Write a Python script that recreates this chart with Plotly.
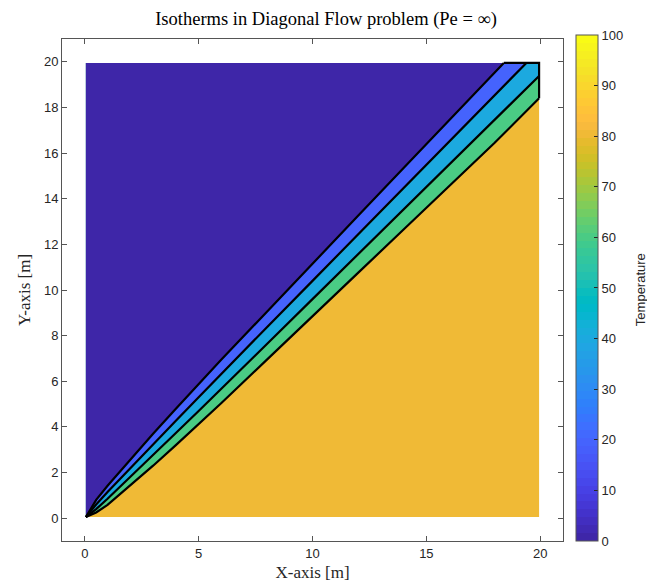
import plotly.graph_objects as go

# ---------------- data ----------------
levels = [0, 20, 40, 60, 80]           # fill levels (lower bound of each band)
domain_x = [0.05, 19.95]               # extent of the computed field
domain_y = [0.05, 19.95]

x_pts = [0.05, 0.5, 1, 2, 3, 4, 5, 6, 8, 10, 12, 14, 16, 18]

# isotherm T = 20 (upper-most line), ends on the top edge
iso20_x = x_pts + [18.4]
iso20_y = [0.05, 0.8, 1.42, 2.58, 3.7, 4.8, 5.88, 6.95, 9.05, 11.13, 13.25, 15.35, 17.45, 19.55, 19.95]
# isotherm T = 40, ends on the top edge
iso40_x = x_pts + [19.0, 19.39]
iso40_y = [0.05, 0.6, 1.15, 2.2, 3.24, 4.27, 5.3, 6.33, 8.37, 10.4, 12.44, 14.48, 16.52, 18.56, 19.57, 19.95]
# isotherm T = 60, ends on the right edge
iso60_x = x_pts + [19.0, 19.95]
iso60_y = [0.05, 0.4, 0.85, 1.8, 2.76, 3.73, 4.7, 5.67, 7.63, 9.6, 11.56, 13.52, 15.48, 17.44, 18.43, 19.38]
# isotherm T = 80 (lowest line), ends on the right edge
iso80_x = x_pts + [19.95]
iso80_y = [0.05, 0.25, 0.58, 1.42, 2.3, 3.2, 4.12, 5.05, 6.95, 8.87, 10.75, 12.65, 14.55, 16.45, 18.4]

cbar_ticks = [0, 10, 20, 30, 40, 50, 60, 70, 80, 90, 100]
x_ticks = [0, 5, 10, 15, 20]
y_ticks = [0, 2, 4, 6, 8, 10, 12, 14, 16, 18, 20]
c_min, c_max = 0, 100

# ---------------- style ----------------
parula_rgb = [
    (0.2422, 0.1504, 0.6603), (0.2504, 0.1650, 0.7076), (0.2578, 0.1818, 0.7511), (0.2647, 0.1978, 0.7952),
    (0.2706, 0.2147, 0.8364), (0.2751, 0.2342, 0.8710), (0.2783, 0.2559, 0.8991), (0.2803, 0.2782, 0.9221),
    (0.2813, 0.3006, 0.9414), (0.2810, 0.3228, 0.9579), (0.2795, 0.3447, 0.9717), (0.2760, 0.3667, 0.9829),
    (0.2699, 0.3892, 0.9906), (0.2602, 0.4123, 0.9952), (0.2440, 0.4358, 0.9988), (0.2206, 0.4603, 0.9973),
    (0.1963, 0.4847, 0.9892), (0.1834, 0.5074, 0.9798), (0.1786, 0.5289, 0.9682), (0.1764, 0.5499, 0.9520),
    (0.1687, 0.5703, 0.9359), (0.1540, 0.5902, 0.9218), (0.1460, 0.6091, 0.9079), (0.1380, 0.6276, 0.8973),
    (0.1248, 0.6459, 0.8883), (0.1113, 0.6635, 0.8763), (0.0952, 0.6798, 0.8598), (0.0689, 0.6948, 0.8394),
    (0.0297, 0.7082, 0.8163), (0.0036, 0.7203, 0.7917), (0.0067, 0.7312, 0.7660), (0.0433, 0.7411, 0.7394),
    (0.0964, 0.7500, 0.7120), (0.1408, 0.7584, 0.6842), (0.1717, 0.7670, 0.6554), (0.1938, 0.7758, 0.6251),
    (0.2161, 0.7843, 0.5923), (0.2470, 0.7918, 0.5567), (0.2906, 0.7973, 0.5188), (0.3406, 0.8008, 0.4789),
    (0.3909, 0.8029, 0.4354), (0.4456, 0.8024, 0.3909), (0.5044, 0.7993, 0.3480), (0.5616, 0.7942, 0.3045),
    (0.6174, 0.7876, 0.2612), (0.6720, 0.7793, 0.2227), (0.7242, 0.7698, 0.1910), (0.7738, 0.7598, 0.1646),
    (0.8203, 0.7498, 0.1535), (0.8634, 0.7406, 0.1596), (0.9035, 0.7330, 0.1774), (0.9393, 0.7288, 0.2100),
    (0.9728, 0.7298, 0.2394), (0.9956, 0.7434, 0.2371), (0.9970, 0.7659, 0.2199), (0.9952, 0.7893, 0.2028),
    (0.9892, 0.8136, 0.1885), (0.9786, 0.8386, 0.1766), (0.9676, 0.8639, 0.1643), (0.9610, 0.8890, 0.1537),
    (0.9597, 0.9135, 0.1423), (0.9628, 0.9373, 0.1265), (0.9691, 0.9606, 0.1064), (0.9769, 0.9839, 0.0805),
]
n = len(parula_rgb)
rgb_str = ["rgb(%d,%d,%d)" % tuple(round(255 * c) for c in rgb) for rgb in parula_rgb]
# stepped colormap (like MATLAB's 64-colour colorbar)
parula = []
for i, c in enumerate(rgb_str):
    parula.append([i / n, c])
    parula.append([(i + 1) / n, c])


def cmap_lookup(v):
    k = int((v - c_min) / (c_max - c_min) * n)
    return rgb_str[min(max(k, 0), n - 1)]


fill_colors = [cmap_lookup(lv) for lv in levels]

sans = "Liberation Sans, Arial, sans-serif"
serif = "Liberation Serif, Times New Roman, serif"
tick_font = dict(family=sans, size=13, color="#262626")

fig = go.Figure()

x0, x1 = domain_x
y0, y1 = domain_y

# background band (highest level) covers the whole domain
fig.add_trace(go.Scatter(x=[x0, x1, x1, x0, x0], y=[y0, y0, y1, y1, y0], mode="lines",
                         line=dict(width=0), fill="toself", fillcolor=fill_colors[4], hoverinfo="skip"))

# region above each isotherm, drawn from the lowest line upward
iso_lines = [(iso80_x, iso80_y, fill_colors[3]), (iso60_x, iso60_y, fill_colors[2]),
             (iso40_x, iso40_y, fill_colors[1]), (iso20_x, iso20_y, fill_colors[0])]
for xs, ys, col in iso_lines:
    px = list(xs)
    py = list(ys)
    if px[-1] >= x1:          # ends on the right edge -> go through top-right corner
        px.append(x1); py.append(y1)
    px += [x0, x0]
    py += [y1, y0]
    fig.add_trace(go.Scatter(x=px, y=py, mode="lines", line=dict(width=0),
                             fill="toself", fillcolor=col, hoverinfo="skip"))

# black isotherm lines
for xs, ys, _ in iso_lines:
    fig.add_trace(go.Scatter(x=xs, y=ys, mode="lines", line=dict(color="black", width=2.2),
                             hoverinfo="skip"))
# band edge along the boundary at the top-right corner
fig.add_trace(go.Scatter(x=[iso20_x[-1], x1, x1], y=[y1, y1, iso80_y[-1]], mode="lines",
                         line=dict(color="black", width=2.2), hoverinfo="skip"))

# colorbar
fig.add_trace(go.Scatter(
    x=[None], y=[None], mode="markers", hoverinfo="skip",
    marker=dict(colorscale=parula, cmin=c_min, cmax=c_max, color=[0], showscale=True,
                colorbar=dict(
                    tickvals=cbar_ticks, ticks="inside", ticklen=4, tickcolor="#262626",
                    tickfont=tick_font, thickness=22, thicknessmode="pixels",
                    lenmode="pixels", len=506, y=0.504, yanchor="middle",
                    x=1.026, xanchor="left", xpad=0, ypad=0,
                    outlinewidth=1, outlinecolor="#555555"))))

fig.update_layout(
    width=647, height=587,
    margin=dict(l=62, r=84, t=39, b=46, autoexpand=False),
    paper_bgcolor="white", plot_bgcolor="white",
    showlegend=False, hovermode=False,
    title=dict(text="Isotherms in Diagonal Flow problem (Pe = ∞)", x=0.527, xref="paper", xanchor="center",
               y=1 - 19 / 587, yref="container", yanchor="middle",
               font=dict(family=serif, size=18.5, color="black")),
    annotations=[dict(text="Temperature", textangle=-90, x=1.154, y=0.5, xref="paper", yref="paper",
                      xanchor="center", yanchor="middle", showarrow=False,
                      font=dict(family=sans, size=13, color="#262626"))],
)
axis_common = dict(showgrid=False, zeroline=False, showline=True, linecolor="#555555", linewidth=1,
                   mirror="ticks", ticks="inside", ticklen=5, tickcolor="#555555", tickfont=tick_font,
                   automargin=False)
fig.update_xaxes(range=[-1, 21], tickvals=x_ticks, **axis_common,
                 title=dict(text="X-axis [m]", font=dict(family=serif, size=17, color="#262626"), standoff=6))
fig.update_yaxes(range=[-1, 21], tickvals=y_ticks, **axis_common,
                 title=dict(text="Y-axis [m]", font=dict(family=serif, size=17, color="#262626"), standoff=8))

# remove the default page margin so the 647x587 figure fills the window exactly
fig.write_html("out.html", config={"displayModeBar": False},
               post_script="document.body.style.margin='0';document.body.style.overflow='hidden';")
